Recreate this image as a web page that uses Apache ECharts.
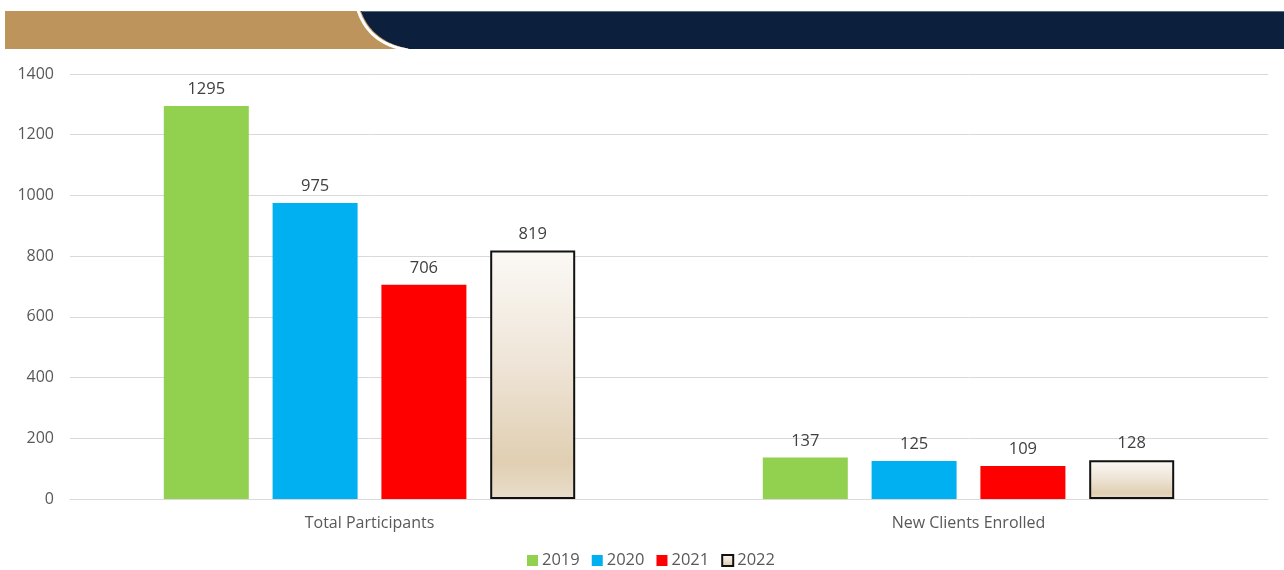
<!DOCTYPE html>
<html>
<head>
<meta charset="utf-8">
<style>
  html, body { margin: 0; padding: 0; background: #ffffff; }
  #chart { width: 1284px; height: 570px; }
</style>
<script src="https://cdn.jsdelivr.net/npm/echarts@6/dist/echarts.min.js"></script>
</head>
<body>
<div id="chart"></div>
<script>
// Program metrics by year
const categories = ['Total Participants', 'New Clients Enrolled'];
const years = ['2019', '2020', '2021', '2022'];
const values2019 = [1295, 137];
const values2020 = [975, 125];
const values2021 = [706, 109];
const values2022 = [819, 128];
const yTicks = [0, 200, 400, 600, 800, 1000, 1200, 1400];

const FONT = '"Open Sans", Lato, sans-serif';

const sand = new echarts.graphic.LinearGradient(0, 0, 0, 1, [
  { offset: 0, color: '#fbf9f5' },
  { offset: 0.45, color: '#efe5d8' },
  { offset: 0.85, color: '#e0cfb2' },
  { offset: 1, color: '#e9ddcb' }
]);

const seriesDefs = [
  { name: years[0], data: values2019, style: { color: '#92d050' } },
  { name: years[1], data: values2020, style: { color: '#00b0f0' } },
  { name: years[2], data: values2021, style: { color: '#ff0000' } },
  { name: years[3], data: values2022, style: { color: sand, borderColor: '#111111', borderWidth: 2 } }
];

// quadratic curve sampled for the curved edge of the header band
function curvePoints(p0, p1, p2, steps) {
  const pts = [];
  for (let i = 0; i <= steps; i++) {
    const t = i / steps, u = 1 - t;
    pts.push([
      u * u * p0[0] + 2 * u * t * p1[0] + t * t * p2[0],
      u * u * p0[1] + 2 * u * t * p1[1] + t * t * p2[1]
    ]);
  }
  return pts;
}
const edge = curvePoints([361, 11], [372, 42], [410, 49], 40);
const navyShape = [[1284, 11], [1284, 49]].concat(edge.slice().reverse());
const divider = curvePoints([358, 10], [369, 44], [408, 50], 40);

const chart = echarts.init(document.getElementById('chart'), null, { renderer: 'canvas' });

chart.setOption({
  animation: false,
  backgroundColor: '#ffffff',
  textStyle: { fontFamily: FONT },
  graphic: [
    { type: 'rect', shape: { x: 5, y: 11, width: 420, height: 38 }, style: { fill: '#bd955c' }, z: 0 },
    { type: 'polygon', shape: { points: navyShape }, style: { fill: '#0c203d' }, z: 1 },
    { type: 'polyline', shape: { points: divider }, style: { stroke: '#ffffff', lineWidth: 3, fill: null }, z: 2 },
    { type: 'rect', shape: { x: 362, y: 11, width: 922, height: 1 }, style: { fill: '#5d6b7e' }, z: 3 }
  ],
  legend: {
    top: 547,
    left: 522,
    itemWidth: 11,
    itemHeight: 11,
    itemGap: 12,
    icon: 'rect',
    textStyle: { fontFamily: FONT, fontSize: 16.5, color: '#595959', padding: [0, 0, 0, -1] },
    data: years
  },
  grid: { left: 70, right: 16, top: 74, bottom: 71, containLabel: false },
  xAxis: {
    type: 'category',
    data: categories,
    axisLine: { show: true, lineStyle: { color: '#d9d9d9', width: 1 } },
    axisTick: { show: false },
    axisLabel: { fontFamily: FONT, fontSize: 16, color: '#595959', margin: 16 }
  },
  yAxis: {
    type: 'value',
    min: 0,
    max: 1400,
    interval: 200,
    axisLine: { show: false },
    axisTick: { show: false },
    splitLine: { lineStyle: { color: '#d9d9d9', width: 1 } },
    axisLabel: {
      fontFamily: FONT, fontSize: 16, color: '#595959', margin: 16,
      formatter: v => (yTicks.includes(v) ? String(v) : '')
    }
  },
  series: seriesDefs.map(s => ({
    type: 'bar',
    name: s.name,
    data: s.data,
    barWidth: 85,
    barGap: '28%',
    itemStyle: s.style,
    label: {
      show: true,
      position: 'top',
      distance: 8,
      fontFamily: FONT,
      fontSize: 16.5,
      color: '#404040'
    }
  }))
});
</script>
</body>
</html>
